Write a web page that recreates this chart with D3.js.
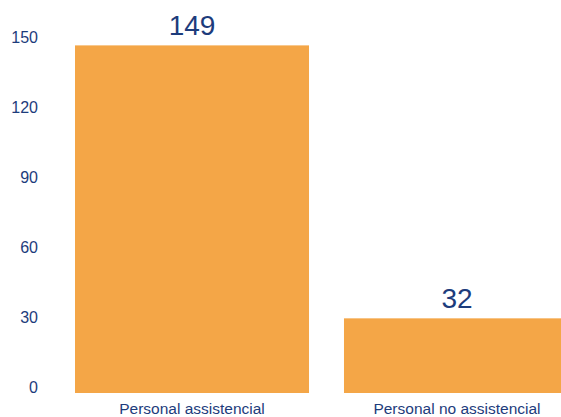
<!DOCTYPE html>
<html>
<head>
<meta charset="utf-8">
<script src="https://cdn.jsdelivr.net/npm/d3@7"></script>
<style>
  body { margin: 0; background: #fff; }
  text { font-family: "Liberation Sans Narrow", "Liberation Sans", sans-serif; fill: #1d3c7c; }
</style>
</head>
<body>
<svg class="bar-chart"></svg>
<script>
var categories = ["Personal assistencial", "Personal no assistencial"];
var values = [149, 32];
var yTicks = [0, 30, 60, 90, 120, 150];

var svgWidth = 561, svgHeight = 417;
var baseline = 393;

var svg = d3.select("svg.bar-chart")
    .attr("width", svgWidth)
    .attr("height", svgHeight);

var x = d3.scaleBand()
    .domain(categories)
    .range([75, 578])
    .paddingInner(0.13)
    .paddingOuter(0);

var y = d3.scaleLinear()
    .domain([0, 150])
    .range([baseline, baseline - 150 * 2.333]);

// y axis labels only
svg.append("g")
    .attr("transform", "translate(38,0)")
    .call(d3.axisLeft(y).tickValues(yTicks).tickSize(0).tickPadding(0))
    .call(function(g) { g.select(".domain").remove(); })
    .selectAll("text")
    .attr("dy", "-0.05em")
    .attr("font-size", 16)
    .style("fill", "#1d3c7c");

svg.selectAll("rect.bar")
    .data(values)
    .enter().append("rect")
    .attr("class", "bar")
    .attr("x", function(d, i) { return x(categories[i]); })
    .attr("y", function(d) { return y(d); })
    .attr("width", x.bandwidth())
    .attr("height", function(d) { return baseline - y(d); })
    .attr("fill", "#f4a647");

svg.selectAll("text.value")
    .data(values)
    .enter().append("text")
    .attr("class", "value")
    .attr("x", function(d, i) { return x(categories[i]) + x.bandwidth() / 2 - (i == 1 ? 4 : 0); })
    .attr("y", function(d) { return y(d) - 10; })
    .attr("text-anchor", "middle")
    .attr("font-size", 28)
    .text(function(d) { return d; });

svg.selectAll("text.cat")
    .data(categories)
    .enter().append("text")
    .attr("class", "cat")
    .attr("x", function(d, i) { return x(d) + x.bandwidth() / 2 - (i == 1 ? 4 : 0); })
    .attr("y", 414)
    .attr("text-anchor", "middle")
    .attr("font-size", 15.5)
    .text(function(d) { return d; });
</script>
</body>
</html>
